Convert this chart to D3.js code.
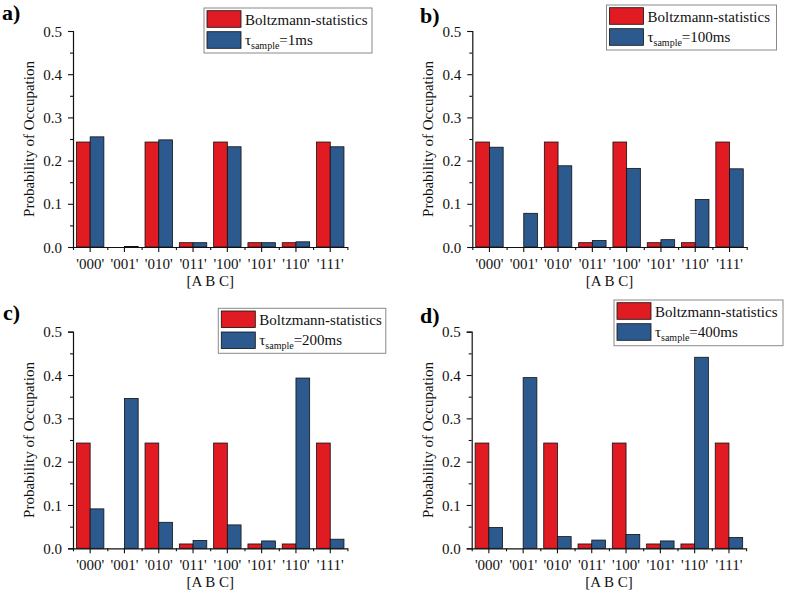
<!DOCTYPE html>
<html>
<head>
<meta charset="utf-8">
<script src="https://cdn.jsdelivr.net/npm/d3@7"></script>
<style>
  html, body { margin: 0; padding: 0; background: #fff; }
  svg { display: block; font-family: "Liberation Serif", "Times New Roman", serif; }
</style>
</head>
<body>
<svg id="chart" width="787" height="597"></svg>
<script>
// ---- data ----
const categories = ["'000'", "'001'", "'010'", "'011'", "'100'", "'101'", "'110'", "'111'"];
const boltzmann   = [0.243, 0.000, 0.243, 0.010, 0.243, 0.010, 0.010, 0.243];
const sample1ms   = [0.255, 0.001, 0.248, 0.010, 0.232, 0.010, 0.012, 0.232];
const sample100ms = [0.231, 0.078, 0.188, 0.015, 0.182, 0.017, 0.110, 0.181];
const sample200ms = [0.091, 0.346, 0.060, 0.018, 0.054, 0.017, 0.393, 0.021];
const sample400ms = [0.048, 0.394, 0.027, 0.019, 0.032, 0.017, 0.441, 0.025];
const yTicks = [0, 0.1, 0.2, 0.3, 0.4, 0.5];
const yMinorTicks = [0.05, 0.15, 0.25, 0.35, 0.45];
const panelLabels = ["a)", "b)", "c)", "d)"];
const sampleLabels = ["=1ms", "=100ms", "=200ms", "=400ms"];
const sampleSeries = [sample1ms, sample100ms, sample200ms, sample400ms];
const xTitle = "[A B C]";
const yTitle = "Probability of Occupation";
const legendFirst = "Boltzmann-statistics";

// ---- layout ----
const layouts = [
  { ax: 73,    top: 31,    bot: 247,   lx: 2,   ly: 20,  leg: [204, 8, 168, 45] },
  { ax: 472.3, top: 31,    bot: 247,   lx: 420, ly: 23,  leg: [606.5, 5, 170, 45] },
  { ax: 73,    top: 331.7, bot: 548.3, lx: 3,   ly: 320, leg: [218.3, 308.3, 167.5, 45] },
  { ax: 471.7, top: 331.7, bot: 548.3, lx: 420, ly: 323, leg: [614, 300, 169, 45.7] }
];
const step = 34.3;
const RED = "#e01b22", BLUE = "#2c5a8e", INK = "#111";
const FONT = "Liberation Serif";

const svg = d3.select("#chart");

layouts.forEach((L, p) => {
  const g = svg.append("g");
  const xEnd = L.ax + step * categories.length;
  const x = d3.scaleBand().domain(categories).range([L.ax, xEnd]).paddingInner(0).paddingOuter(0);
  const xs = d3.scaleBand().domain(["b", "s"]).range([0, x.bandwidth()]).paddingInner(0).paddingOuter(0.25);
  const xLin = d3.scaleLinear().domain([0, categories.length]).range([L.ax, xEnd]);
  const y = d3.scaleLinear().domain([0, 0.5]).range([L.bot, L.top]);

  const rows = categories.map((c, i) => ({ c, b: boltzmann[i], s: sampleSeries[p][i] }));

  // bars
  const grp = g.append("g");
  grp.selectAll("rect.b").data(rows).join("rect")
    .attr("x", d => x(d.c) + xs("b")).attr("width", xs.bandwidth())
    .attr("y", d => y(d.b)).attr("height", d => y(0) - y(d.b))
    .attr("fill", RED).attr("stroke", INK).attr("stroke-width", d => d.b > 0 ? 0.8 : 0);
  grp.selectAll("rect.s").data(rows).join("rect")
    .attr("x", d => x(d.c) + xs("s")).attr("width", xs.bandwidth())
    .attr("y", d => y(d.s)).attr("height", d => y(0) - y(d.s))
    .attr("fill", BLUE).attr("stroke", INK).attr("stroke-width", 0.8);

  // y axis
  const yAxis = g.append("g").attr("transform", `translate(${L.ax},0)`)
    .call(d3.axisLeft(y).tickValues(yTicks).tickFormat(d3.format(".1f")).tickSize(5).tickPadding(6));
  g.append("g").attr("transform", `translate(${L.ax},0)`)
    .call(d3.axisLeft(y).tickValues(yMinorTicks).tickFormat("").tickSize(3))
    .select(".domain").remove();

  // x axis
  g.append("g").attr("transform", `translate(0,${L.bot})`)
    .call(d3.axisBottom(x).tickSize(5).tickPadding(6).tickSizeOuter(0));
  g.append("g").attr("transform", `translate(0,${L.bot})`)
    .call(d3.axisBottom(xLin).tickValues(d3.range(categories.length + 1)).tickFormat("").tickSize(3))
    .select(".domain").remove();

  g.selectAll(".domain").attr("stroke", INK).attr("stroke-width", 1.2);
  g.selectAll(".tick line").attr("stroke", INK).attr("stroke-width", 1.1);
  g.selectAll(".tick text").attr("font-family", FONT).attr("font-size", 15).attr("fill", INK);
  yAxis.selectAll(".tick text").attr("dy", "0.34em");

  // titles
  g.append("text").attr("x", (L.ax + xEnd) / 2).attr("y", L.bot + 39)
    .attr("text-anchor", "middle").attr("font-family", FONT).attr("font-size", 15).attr("fill", INK).text(xTitle);
  g.append("text").attr("transform", `translate(${L.ax - 39},${(L.top + L.bot) / 2}) rotate(-90)`)
    .attr("text-anchor", "middle").attr("font-family", FONT).attr("font-size", 15).attr("fill", INK).text(yTitle);

  // panel label
  g.append("text").attr("x", L.lx).attr("y", L.ly).attr("font-family", FONT).attr("font-size", 22)
    .attr("font-weight", "bold").attr("fill", "#000").text(panelLabels[p]);

  // legend
  const [bx, by, bw, bh] = L.leg;
  const leg = g.append("g").attr("transform", `translate(${bx},${by})`);
  leg.append("rect").attr("width", bw).attr("height", bh).attr("fill", "#fff")
    .attr("stroke", "#8a8a8a").attr("stroke-width", 1);
  leg.append("rect").attr("x", 3).attr("y", 2.7).attr("width", 34).attr("height", 16.6)
    .attr("fill", RED).attr("stroke", INK).attr("stroke-width", 0.8);
  leg.append("rect").attr("x", 3).attr("y", 23.7).attr("width", 34).attr("height", 16.6)
    .attr("fill", BLUE).attr("stroke", INK).attr("stroke-width", 0.8);
  leg.append("text").attr("x", 41).attr("y", 17).attr("font-family", FONT).attr("font-size", 15)
    .attr("fill", INK).text(legendFirst);
  const t = leg.append("text").attr("x", 41).attr("y", 37).attr("font-family", FONT)
    .attr("font-size", 15).attr("fill", INK);
  t.append("tspan").text("τ");
  t.append("tspan").attr("font-size", 10).attr("dy", 4).text("sample");
  t.append("tspan").attr("font-size", 15).attr("dy", -4).text(sampleLabels[p]);
});
</script>
</body>
</html>
